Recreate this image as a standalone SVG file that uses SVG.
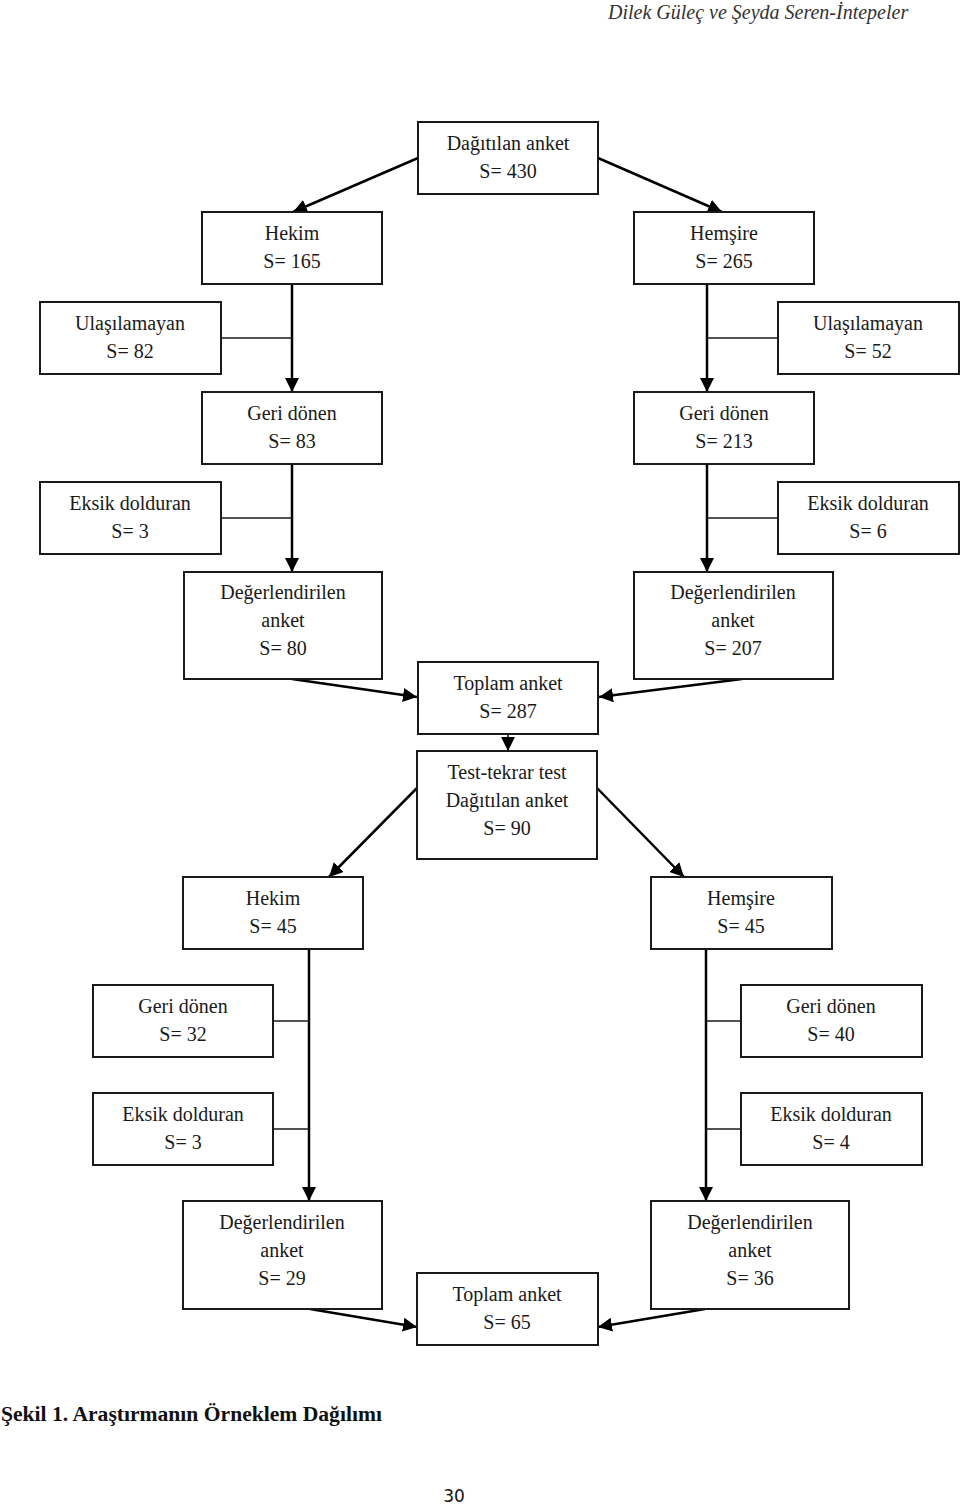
<svg xmlns="http://www.w3.org/2000/svg" width="960" height="1505" viewBox="0 0 960 1505">
<style>
.box{fill:#fff;stroke:#1a1a1a;stroke-width:2}
.t{font-family:"Liberation Serif","Times New Roman",serif;font-size:20px;fill:#1a1a1a;text-anchor:middle}
.ln{stroke:#000;stroke-width:2.5;fill:none}
.br{stroke:#1a1a1a;stroke-width:1.6;fill:none}
.hdr{font-family:"Liberation Serif","Times New Roman",serif;font-size:20px;font-style:italic;fill:#333}
.cap{font-family:"Liberation Serif","Times New Roman",serif;font-size:21.6px;font-weight:bold;fill:#111}
.pg{font-family:"DejaVu Sans","Liberation Sans",sans-serif;font-size:17px;fill:#111;text-anchor:middle}
</style>
<defs>
<marker id="ah" markerUnits="userSpaceOnUse" markerWidth="16" markerHeight="14" refX="14" refY="7" orient="auto">
<path d="M0,0 L14,7 L0,14 Z" fill="#000"/>
</marker>
</defs>
<rect width="960" height="1505" fill="#fff"/>
<text class="hdr" x="608" y="19">Dilek Güleç ve Şeyda Seren-İntepeler</text>

<g id="connectors">
<line class="ln" x1="418" y1="158" x2="293" y2="212" marker-end="url(#ah)"/>
<line class="ln" x1="598" y1="158" x2="722" y2="212" marker-end="url(#ah)"/>
<line class="ln" x1="292" y1="284" x2="292" y2="392" marker-end="url(#ah)"/>
<line class="br" x1="221" y1="338" x2="292" y2="338"/>
<line class="ln" x1="292" y1="464" x2="292" y2="572" marker-end="url(#ah)"/>
<line class="br" x1="221" y1="518" x2="292" y2="518"/>
<line class="ln" x1="707" y1="284" x2="707" y2="392" marker-end="url(#ah)"/>
<line class="br" x1="707" y1="338" x2="778" y2="338"/>
<line class="ln" x1="707" y1="464" x2="707" y2="572" marker-end="url(#ah)"/>
<line class="br" x1="707" y1="518" x2="778" y2="518"/>
<line class="ln" x1="292" y1="679" x2="417" y2="697" marker-end="url(#ah)"/>
<line class="ln" x1="742" y1="679" x2="599" y2="697" marker-end="url(#ah)"/>
<line class="br" x1="508" y1="734" x2="508" y2="751" marker-end="url(#ah)"/>
<line class="ln" x1="417" y1="788" x2="329" y2="877" marker-end="url(#ah)"/>
<line class="ln" x1="597" y1="788" x2="684" y2="877" marker-end="url(#ah)"/>
<line class="ln" x1="309" y1="949" x2="309" y2="1201" marker-end="url(#ah)"/>
<line class="br" x1="273" y1="1021" x2="309" y2="1021"/>
<line class="br" x1="273" y1="1129" x2="309" y2="1129"/>
<line class="ln" x1="706" y1="949" x2="706" y2="1201" marker-end="url(#ah)"/>
<line class="br" x1="706" y1="1021" x2="741" y2="1021"/>
<line class="br" x1="706" y1="1129" x2="741" y2="1129"/>
<line class="ln" x1="310" y1="1309" x2="417" y2="1327" marker-end="url(#ah)"/>
<line class="ln" x1="705" y1="1309" x2="598" y2="1327" marker-end="url(#ah)"/>
</g>

<g id="dagitilan"><rect class="box" x="418" y="122" width="180" height="72"/><text class="t" x="508" y="150">Dağıtılan anket</text><text class="t" x="508" y="178">S= 430</text></g>
<g id="hekim1"><rect class="box" x="202" y="212" width="180" height="72"/><text class="t" x="292" y="240">Hekim</text><text class="t" x="292" y="268">S= 165</text></g>
<g id="hemsire1"><rect class="box" x="634" y="212" width="180" height="72"/><text class="t" x="724" y="240">Hemşire</text><text class="t" x="724" y="268">S= 265</text></g>
<g id="ulas82"><rect class="box" x="40" y="302" width="181" height="72"/><text class="t" x="130" y="330">Ulaşılamayan</text><text class="t" x="130" y="358">S= 82</text></g>
<g id="ulas52"><rect class="box" x="778" y="302" width="181" height="72"/><text class="t" x="868" y="330">Ulaşılamayan</text><text class="t" x="868" y="358">S= 52</text></g>
<g id="geri83"><rect class="box" x="202" y="392" width="180" height="72"/><text class="t" x="292" y="420">Geri dönen</text><text class="t" x="292" y="448">S= 83</text></g>
<g id="geri213"><rect class="box" x="634" y="392" width="180" height="72"/><text class="t" x="724" y="420">Geri dönen</text><text class="t" x="724" y="448">S= 213</text></g>
<g id="eksik3"><rect class="box" x="40" y="482" width="181" height="72"/><text class="t" x="130" y="510">Eksik dolduran</text><text class="t" x="130" y="538">S= 3</text></g>
<g id="eksik6"><rect class="box" x="778" y="482" width="181" height="72"/><text class="t" x="868" y="510">Eksik dolduran</text><text class="t" x="868" y="538">S= 6</text></g>
<g id="deg80"><rect class="box" x="184" y="572" width="198" height="107"/><text class="t" x="283" y="599">Değerlendirilen</text><text class="t" x="283" y="627">anket</text><text class="t" x="283" y="655">S= 80</text></g>
<g id="deg207"><rect class="box" x="634" y="572" width="199" height="107"/><text class="t" x="733" y="599">Değerlendirilen</text><text class="t" x="733" y="627">anket</text><text class="t" x="733" y="655">S= 207</text></g>
<g id="toplam287"><rect class="box" x="418" y="662" width="180" height="72"/><text class="t" x="508" y="690">Toplam anket</text><text class="t" x="508" y="718">S= 287</text></g>
<g id="testtekrar"><rect class="box" x="417" y="751" width="180" height="108"/><text class="t" x="507" y="779">Test-tekrar test</text><text class="t" x="507" y="807">Dağıtılan anket</text><text class="t" x="507" y="835">S= 90</text></g>
<g id="hekim45"><rect class="box" x="183" y="877" width="180" height="72"/><text class="t" x="273" y="905">Hekim</text><text class="t" x="273" y="933">S= 45</text></g>
<g id="hemsire45"><rect class="box" x="651" y="877" width="181" height="72"/><text class="t" x="741" y="905">Hemşire</text><text class="t" x="741" y="933">S= 45</text></g>
<g id="geri32"><rect class="box" x="93" y="985" width="180" height="72"/><text class="t" x="183" y="1013">Geri dönen</text><text class="t" x="183" y="1041">S= 32</text></g>
<g id="geri40"><rect class="box" x="741" y="985" width="181" height="72"/><text class="t" x="831" y="1013">Geri dönen</text><text class="t" x="831" y="1041">S= 40</text></g>
<g id="eksik3b"><rect class="box" x="93" y="1093" width="180" height="72"/><text class="t" x="183" y="1121">Eksik dolduran</text><text class="t" x="183" y="1149">S= 3</text></g>
<g id="eksik4"><rect class="box" x="741" y="1093" width="181" height="72"/><text class="t" x="831" y="1121">Eksik dolduran</text><text class="t" x="831" y="1149">S= 4</text></g>
<g id="deg29"><rect class="box" x="183" y="1201" width="199" height="108"/><text class="t" x="282" y="1229">Değerlendirilen</text><text class="t" x="282" y="1257">anket</text><text class="t" x="282" y="1285">S= 29</text></g>
<g id="deg36"><rect class="box" x="651" y="1201" width="198" height="108"/><text class="t" x="750" y="1229">Değerlendirilen</text><text class="t" x="750" y="1257">anket</text><text class="t" x="750" y="1285">S= 36</text></g>
<g id="toplam65"><rect class="box" x="417" y="1273" width="181" height="72"/><text class="t" x="507" y="1301">Toplam anket</text><text class="t" x="507" y="1329">S= 65</text></g>

<text class="cap" x="1" y="1421">Şekil 1. Araştırmanın Örneklem Dağılımı</text>
<text class="pg" x="454" y="1502">30</text>
</svg>
